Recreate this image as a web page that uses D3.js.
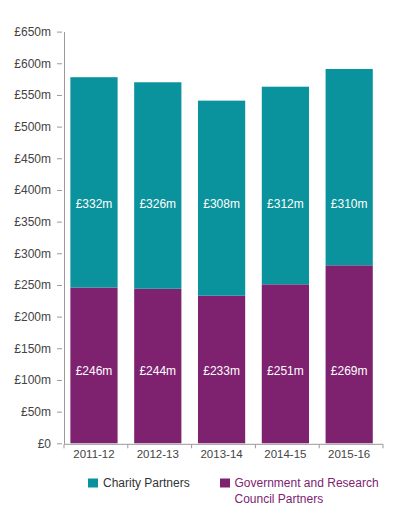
<!DOCTYPE html>
<html>
<head>
<meta charset="utf-8">
<script src="https://cdn.jsdelivr.net/npm/d3@7"></script>
<style>
  body { margin: 0; background: #fff; }
  text { font-family: "Liberation Sans", Arial, sans-serif; }
  .axis text { fill: #444; font-size: 12px; }
  .axis path, .axis line { stroke: #999; }
</style>
</head>
<body>
<div id="chart"></div>
<script>
// **** THE DATA ****

const years = ["2011-12", "2012-13", "2013-14", "2014-15", "2015-16"]
// bar heights as drawn in the picture (£m)
const govValues = [246, 244, 233, 251, 281]
const charityValues = [332, 326, 308, 312, 310]
// labels printed on the bars
const govLabels = ["£246m", "£244m", "£233m", "£251m", "£269m"]
const charityLabels = ["£332m", "£326m", "£308m", "£312m", "£310m"]
const yTicks = [0, 50, 100, 150, 200, 250, 300, 350, 400, 450, 500, 550, 600, 650]

const teal = "#0a939c"
const purple = "#7e2270"

// **** THE SETUP ****
const width = 393, height = 519
const plotLeft = 64, plotRight = 383, plotTop = 31.6, plotBottom = 443.3

const x = d3.scaleBand()
    .domain(years)
    .range([plotLeft, plotRight])

const barOff = x.bandwidth() * 0.1
const barW = x.bandwidth() * 0.74

const y = d3.scaleLinear()
    .domain([0, 650])
    .range([plotBottom, plotTop])

const svg = d3.select("#chart").append("svg")
    .attr("width", width)
    .attr("height", height)

// --> BARS
const rows = years.map((yr, i) => ({year: yr, gov: govValues[i], charity: charityValues[i], gl: govLabels[i], cl: charityLabels[i]}))

svg.selectAll(".gov")
    .data(rows)
  .enter().append("rect")
    .attr("class", "gov")
    .attr("x", d => x(d.year) + barOff)
    .attr("width", barW)
    .attr("y", d => y(d.gov))
    .attr("height", d => y(0) - y(d.gov))
    .attr("fill", purple)

svg.selectAll(".charity")
    .data(rows)
  .enter().append("rect")
    .attr("class", "charity")
    .attr("x", d => x(d.year) + barOff)
    .attr("width", barW)
    .attr("y", d => y(d.gov + d.charity))
    .attr("height", d => y(d.gov) - y(d.gov + d.charity))
    .attr("fill", teal)

// value labels sit on two fixed rows
svg.selectAll(".clabel")
    .data(rows)
  .enter().append("text")
    .attr("x", d => x(d.year) + barOff + barW / 2)
    .attr("y", 208)
    .attr("text-anchor", "middle")
    .attr("fill", "#fff")
    .style("font-size", "12px")
    .text(d => d.cl)

svg.selectAll(".glabel")
    .data(rows)
  .enter().append("text")
    .attr("x", d => x(d.year) + barOff + barW / 2)
    .attr("y", 375)
    .attr("text-anchor", "middle")
    .attr("fill", "#fff")
    .style("font-size", "12px")
    .text(d => d.gl)

// --> Y-AXIS
const yAxis = svg.append("g")
    .attr("class", "axis")
    .attr("transform", "translate(" + plotLeft + ",0)")
    .call(d3.axisLeft(y).tickValues(yTicks).tickSizeOuter(0)
      .tickFormat(d => d === 0 ? "£0" : "£" + d + "m"))
yAxis.selectAll(".tick line").attr("x1", -2).attr("x2", -7)
yAxis.selectAll(".tick text").attr("x", -13)

// --> X-AXIS
const xAxis = svg.append("g").attr("class", "axis")
xAxis.append("line")
    .attr("x1", plotLeft).attr("x2", plotRight)
    .attr("y1", plotBottom + 1).attr("y2", plotBottom + 1)
xAxis.selectAll(".xt")
    .data(years.concat(["end"]))
  .enter().append("line")
    .attr("x1", d => d === "end" ? plotRight : x(d))
    .attr("x2", d => d === "end" ? plotRight : x(d))
    .attr("y1", plotBottom + 1).attr("y2", plotBottom + 5)
xAxis.selectAll(".xl")
    .data(years)
  .enter().append("text")
    .attr("x", d => x(d) + barOff + barW / 2)
    .attr("y", plotBottom + 15)
    .attr("text-anchor", "middle")
    .style("font-size", "11.5px")
    .text(d => d)

// --> LEGEND
const leg = svg.append("g")
leg.append("rect").attr("x", 88).attr("y", 478.5).attr("width", 10).attr("height", 9).attr("fill", teal)
leg.append("text").attr("x", 103).attr("y", 487).attr("fill", "#333").style("font-size", "12px").text("Charity Partners")
leg.append("rect").attr("x", 220).attr("y", 478.5).attr("width", 10).attr("height", 9).attr("fill", purple)
const gt = leg.append("text").attr("fill", purple).style("font-size", "12px")
gt.append("tspan").attr("x", 234.5).attr("y", 487).text("Government and Research")
gt.append("tspan").attr("x", 234.5).attr("y", 502.5).text("Council Partners")
</script>
</body>
</html>
